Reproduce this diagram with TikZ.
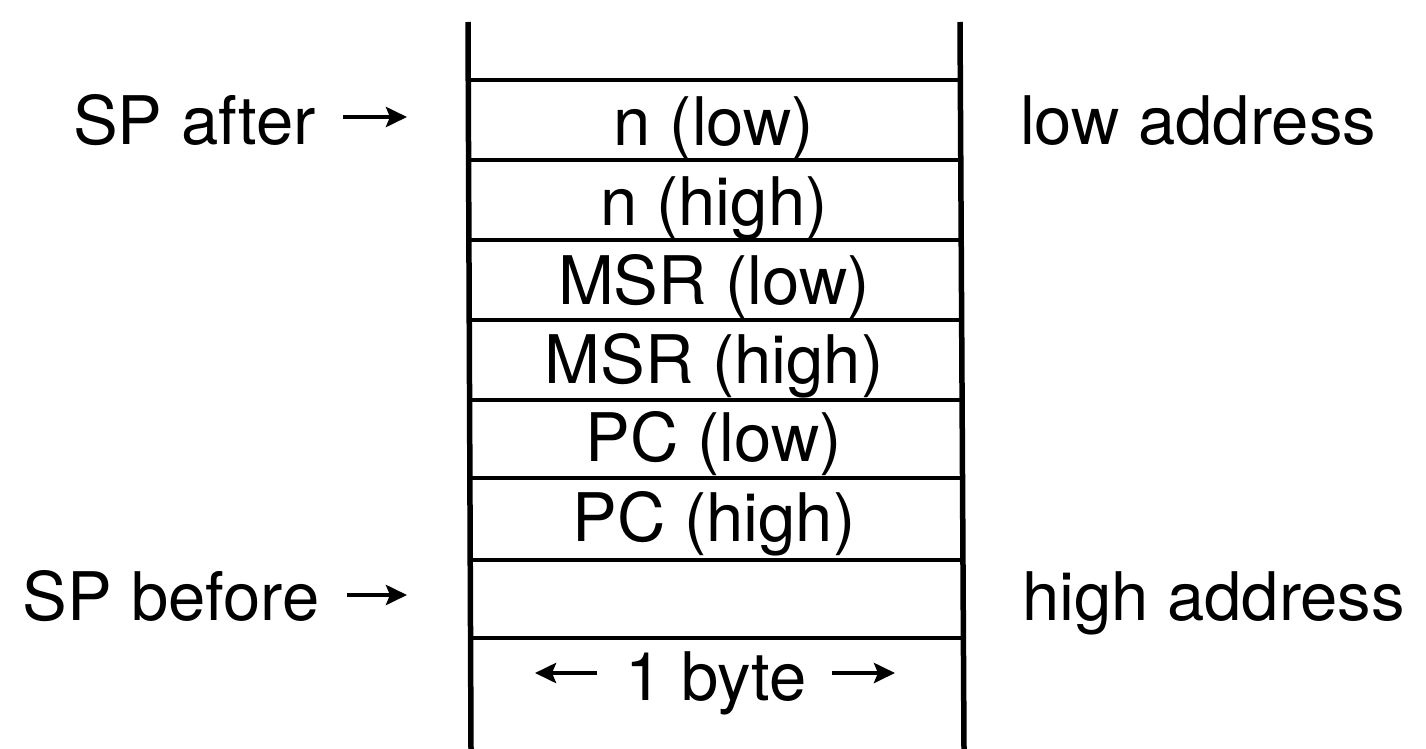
\documentclass[tikz,border=0pt]{standalone}
\usepackage{fontspec}
\setmainfont{TeX Gyre Heros}
\usetikzlibrary{arrows.meta}
\begin{document}
\begin{tikzpicture}[x=1pt,y=-1pt,
  lbl/.style={inner sep=0pt,outer sep=0pt,font=\fontsize{67}{72}\selectfont},
  celltext/.style={lbl,anchor=base},
  sideL/.style={lbl,anchor=base west},
  rule/.style={line width=4pt},
  wall/.style={line width=5.5pt},
  arr/.style={line width=4.5pt,-{Stealth[length=21pt,width=20pt,inset=4pt]}}]
\useasboundingbox (0,0) rectangle (1426,749);
% walls
\coordinate (LT) at (468,22);
\coordinate (LB) at (471,749);
\coordinate (RT) at (960,22);
\coordinate (RB) at (964,749);
\draw[wall] (LT) -- (LB);
\draw[wall] (RT) -- (RB);
% horizontal rules
\foreach \yy in {80,160,240,320,400,478,560,638}{
  \draw[rule] (469,\yy) -- (962,\yy);
}
% cell texts
\node[celltext] (c1) at (714,146) {n (low)};
\node[celltext] (c2) at (714,225) {n (high)};
\node[celltext] (c3) at (714,304) {MSR (low)};
\node[celltext] (c4) at (714,383) {MSR (high)};
\node[celltext] (c5) at (714,461) {PC (low)};
\node[celltext] (c6) at (714,541) {PC (high)};
\node[celltext] (byte) at (716,700) {1 byte};
\coordinate (bl1) at (597,673);
\coordinate (bl2) at (535,673);
\coordinate (br1) at (832,673);
\coordinate (br2) at (895,673);
\draw[arr] (bl1) -- (bl2);
\draw[arr] (br1) -- (br2);
% left labels
\node[sideL] (spa) at (73,145) {SP after};
\node[sideL] (spb) at (23,620) {SP before};
\coordinate (a1) at (343,117);
\coordinate (a2) at (407,117);
\coordinate (b1) at (347,595);
\coordinate (b2) at (407,595);
\draw[arr] (a1) -- (a2);
\draw[arr] (b1) -- (b2);
% right labels
\node[sideL] (lowa) at (1020,145) {low address};
\node[sideL] (higha) at (1022,620) {high address};
\end{tikzpicture}
\end{document}
